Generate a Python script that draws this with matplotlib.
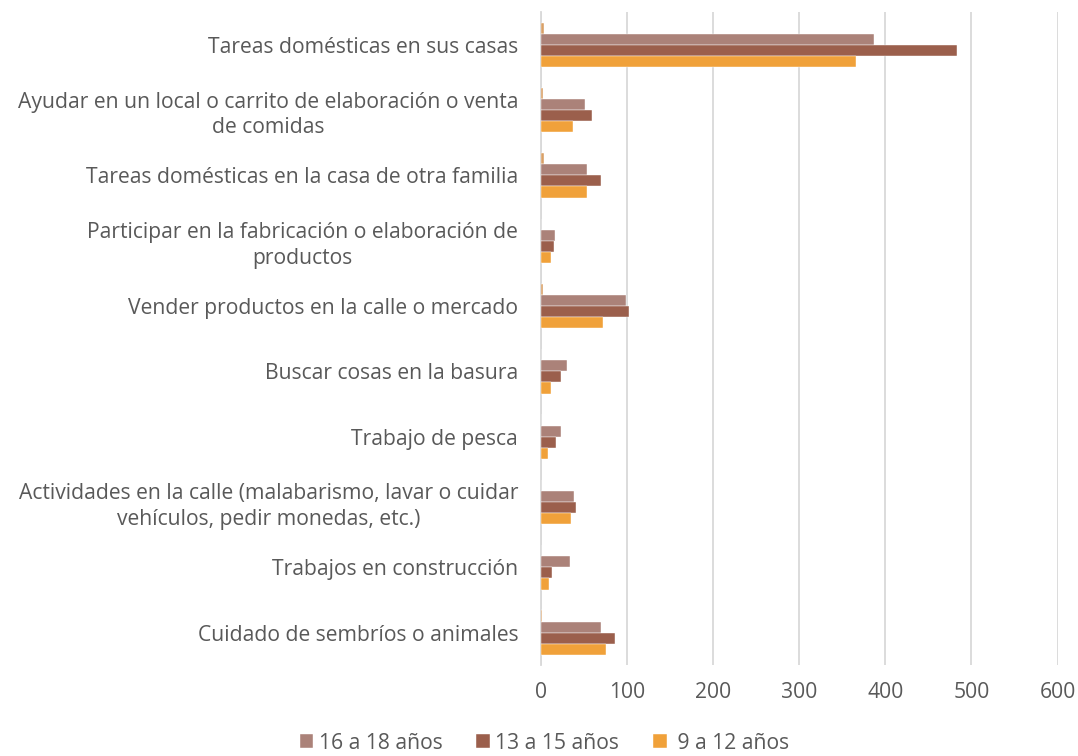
import matplotlib.pyplot as plt
import numpy as np

plt.rcParams['font.family'] = ['Open Sans', 'DejaVu Sans']

categorias = [
    "Tareas domésticas en sus casas",
    "Ayudar en un local o carrito de elaboración o venta\nde comidas",
    "Tareas domésticas en la casa de otra familia",
    "Participar en la fabricación o elaboración de\nproductos",
    "Vender productos en la calle o mercado",
    "Buscar cosas en la basura",
    "Trabajo de pesca",
    "Actividades en la calle (malabarismo, lavar o cuidar\nvehículos, pedir monedas, etc.)",
    "Trabajos en construcción",
    "Cuidado de sembríos o animales",
]

# serie sin leyenda (valores muy pequeños)
otros = [3, 2, 3, 0, 2, 0, 0, 0, 0, 1]
edad_16_18 = [387, 51, 53, 16, 99, 30, 23, 38, 33, 69]
edad_13_15 = [483, 59, 70, 15, 102, 23, 17, 41, 13, 86]
edad_9_12 = [366, 37, 53, 12, 72, 12, 8, 35, 9, 75]

series = [
    (otros, None, '#d9a066'),
    (edad_16_18, '16 a 18 años', '#ab8279'),
    (edad_13_15, '13 a 15 años', '#9b5f4c'),
    (edad_9_12, ' 9 a 12 años', '#f0a13a'),
]

fig = plt.figure(figsize=(10.78, 7.56), dpi=100)
ax = fig.add_axes([0.502, 0.12, 0.479, 0.864])

y = np.arange(len(categorias))
h = 0.17
for k, (vals, lab, col) in enumerate(series):
    ax.barh(y + (k - 1.5) * h, vals, height=h, color=col, label=lab,
            edgecolor='white', linewidth=0.3, zorder=3)

ax.set_ylim(len(categorias) - 0.5, -0.5)
ax.set_xlim(0, 600)
ax.set_xticks(range(0, 601, 100))
ax.set_yticks(y)
ax.set_yticklabels(categorias, multialignment='center', linespacing=1.3)
ax.tick_params(axis='both', length=0, labelsize=15.2, labelcolor='#595959')
ax.tick_params(axis='y', pad=16.5)
ax.tick_params(axis='x', pad=12)
ax.grid(axis='x', color='#d9d9d9', linewidth=1.3, zorder=0)
for s in ['top', 'right', 'bottom']:
    ax.spines[s].set_visible(False)
ax.spines['left'].set_color('#d9d9d9')
ax.spines['left'].set_linewidth(1.3)

handles, labels = ax.get_legend_handles_labels()
fig.legend(handles, labels, loc='lower center', bbox_to_anchor=(0.505, -0.022),
           ncol=3, frameon=False, fontsize=15.2, labelcolor='#595959',
           handlelength=0.65, handleheight=0.65, handletextpad=0.25, columnspacing=1.6)

fig.savefig('out.png', dpi=100)
